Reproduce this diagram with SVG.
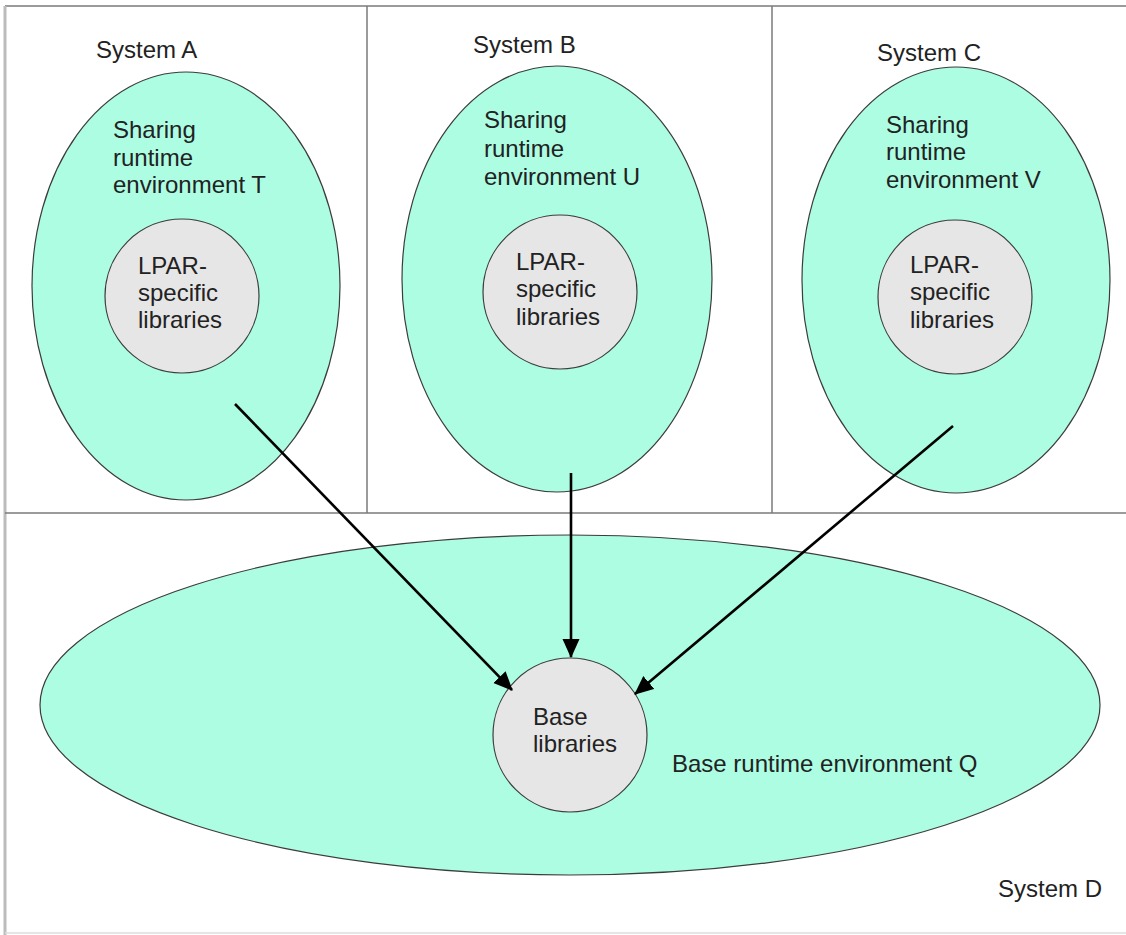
<svg xmlns="http://www.w3.org/2000/svg" width="1126" height="935" viewBox="0 0 1126 935">
  <style>
    .frame { stroke: #7a7a7a; stroke-width: 1.5; fill: none; }
    .env { fill: #adfde2; stroke: #3c3c3c; stroke-width: 1.2; }
    .lib { fill: #e6e6e6; stroke: #3c3c3c; stroke-width: 1.2; }
    text { font-family: "Liberation Sans", Arial, Helvetica, sans-serif; font-size: 24px; fill: #222; }
    .conn { stroke: #000; stroke-width: 2.6; fill: none; marker-end: url(#arrow); }
  </style>
  <defs>
    <marker id="arrow" markerUnits="userSpaceOnUse" markerWidth="20" markerHeight="18" refX="18" refY="8.5" orient="auto">
      <path d="M0,0 L19,8.5 L0,17 z" fill="#000"/>
    </marker>
  </defs>

  <rect width="1126" height="935" fill="#fff"/>

  <!-- panel frame: systems A, B, C on top, D below -->
  <g id="frame">
    <line x1="5" y1="6" x2="1126" y2="6" class="frame"/>
    <line x1="5" y1="6" x2="5" y2="935" stroke="#bcbcbc" stroke-width="3"/>
    <line x1="5" y1="933" x2="1126" y2="933" stroke="#dcdcdc" stroke-width="1.5"/>
    <line x1="5" y1="513" x2="1126" y2="513" class="frame"/>
    <line x1="367" y1="6" x2="367" y2="513" class="frame"/>
    <line x1="772" y1="6" x2="772" y2="513" class="frame"/>
    <text x="96" y="58">System A</text>
    <text x="473" y="53">System B</text>
    <text x="877" y="61">System C</text>
    <text x="998" y="897">System D</text>
  </g>

  <!-- base runtime environment -->
  <g id="envQ">
    <ellipse cx="570" cy="705" rx="530" ry="170" class="env"/>
    <text x="672" y="772">Base runtime environment Q</text>
  </g>

  <!-- sharing runtime environments -->
  <g id="envT">
    <ellipse cx="186" cy="286" rx="154" ry="214" class="env"/>
    <text x="113" y="138">Sharing</text>
    <text x="113" y="166">runtime</text>
    <text x="113" y="193">environment T</text>
  </g>
  <g id="envU">
    <ellipse cx="557" cy="279" rx="155" ry="213" class="env"/>
    <text x="484" y="128">Sharing</text>
    <text x="484" y="157">runtime</text>
    <text x="484" y="185">environment U</text>
  </g>
  <g id="envV">
    <ellipse cx="956" cy="280" rx="154" ry="213" class="env"/>
    <text x="886" y="133">Sharing</text>
    <text x="886" y="160">runtime</text>
    <text x="886" y="188">environment V</text>
  </g>

  <!-- LPAR-specific libraries -->
  <g id="libT">
    <circle cx="182" cy="296" r="77" class="lib"/>
    <text x="138" y="274">LPAR-</text>
    <text x="138" y="301">specific</text>
    <text x="138" y="328">libraries</text>
  </g>
  <g id="libU">
    <circle cx="560" cy="292" r="77" class="lib"/>
    <text x="516" y="270">LPAR-</text>
    <text x="516" y="297">specific</text>
    <text x="516" y="325">libraries</text>
  </g>
  <g id="libV">
    <circle cx="955" cy="297" r="77" class="lib"/>
    <text x="910" y="273">LPAR-</text>
    <text x="910" y="300">specific</text>
    <text x="910" y="328">libraries</text>
  </g>

  <!-- base libraries -->
  <g id="libBase">
    <circle cx="570" cy="735" r="77" class="lib"/>
    <text x="533" y="725">Base</text>
    <text x="533" y="752">libraries</text>
  </g>

  <!-- connectors -->
  <g id="connectors">
    <line x1="235" y1="404" x2="512" y2="690" class="conn"/>
    <line x1="571" y1="473" x2="571" y2="657" class="conn"/>
    <line x1="953" y1="426" x2="635" y2="694" class="conn"/>
  </g>
</svg>
